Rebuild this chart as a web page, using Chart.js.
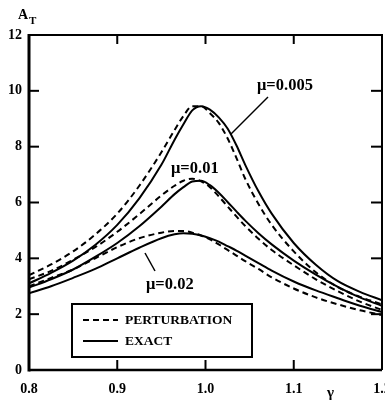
<!DOCTYPE html>
<html><head><meta charset="utf-8">
<script src="https://cdn.jsdelivr.net/npm/chart.js@4.4.1/dist/chart.umd.min.js"></script>
<style>html,body{margin:0;padding:0;background:#fff}#wrap{width:385px;height:400px;position:relative}</style>
</head><body><div id="wrap"><canvas id="c" width="385" height="400"></canvas></div>
<script>
// gamma grid (x values)
const gamma = [0.80,0.825,0.85,0.875,0.90,0.925,0.95,0.965,0.975,0.985,0.995,1.005,1.015,1.025,1.035,1.045,1.06,1.075,1.10,1.125,1.15,1.175,1.20];
// A_T values
const pert005  = [3.40,3.78,4.25,4.85,5.60,6.60,7.80,8.60,9.10,9.45,9.45,9.20,8.85,8.30,7.60,6.85,5.95,5.20,4.25,3.50,2.97,2.62,2.35];
const exact005 = [3.10,3.48,3.92,4.48,5.20,6.15,7.35,8.25,8.80,9.30,9.45,9.33,9.05,8.65,8.05,7.35,6.40,5.60,4.55,3.77,3.18,2.80,2.50];
const pert01   = [3.25,3.55,3.95,4.40,4.95,5.58,6.25,6.60,6.78,6.85,6.76,6.55,6.22,5.86,5.50,5.16,4.70,4.30,3.75,3.25,2.82,2.45,2.15];
const exact01  = [2.95,3.25,3.60,4.05,4.55,5.15,5.85,6.30,6.55,6.75,6.78,6.62,6.35,6.02,5.68,5.35,4.90,4.50,3.92,3.42,2.98,2.60,2.30];
const pert02   = [3.00,3.30,3.60,4.00,4.40,4.72,4.92,4.98,4.98,4.92,4.82,4.68,4.50,4.30,4.10,3.90,3.62,3.32,2.92,2.60,2.35,2.14,1.97];
const exact02  = [2.75,3.00,3.30,3.62,4.00,4.38,4.72,4.86,4.90,4.88,4.82,4.72,4.60,4.44,4.28,4.10,3.83,3.56,3.17,2.85,2.57,2.30,2.08];
const yTickValues = [0,2,4,6,8,10,12];
const xTickValues = [0.8,0.9,1.0,1.1,1.2];
const curveLabels = ['\u03bc=0.005','\u03bc=0.01','\u03bc=0.02'];
const legendLabels = ['PERTURBATION','EXACT'];
const yTitle = 'A';
const yTitleSub = 'T';
const xTitle = '\u03b3';

const FONT = '"Liberation Serif", "DejaVu Serif", serif';

function ds(arr, dashed){
  return {
    data: gamma.map((g,i)=>({x:g,y:arr[i]})),
    borderColor:'#000', borderWidth:2, borderDash: dashed ? [6,4] : [],
    pointRadius:0, fill:false, cubicInterpolationMode:'monotone'
  };
}

const decor = {
  id:'decor',
  afterDraw(chart){
    const ctx = chart.ctx;
    const xs = chart.scales.x, ys = chart.scales.y;
    const L = chart.chartArea.left, R = chart.chartArea.right, T = chart.chartArea.top, B = chart.chartArea.bottom;
    ctx.save();
    ctx.strokeStyle = '#000';
    ctx.lineCap = 'butt';
    // frame
    ctx.lineWidth = 3;
    ctx.beginPath(); ctx.moveTo(L, T-1); ctx.lineTo(L, B+1.5); ctx.stroke();
    ctx.lineWidth = 2.5;
    ctx.beginPath(); ctx.moveTo(L, B); ctx.lineTo(R, B); ctx.stroke();
    ctx.lineWidth = 2;
    ctx.beginPath(); ctx.moveTo(L, T); ctx.lineTo(R, T); ctx.lineTo(R, B); ctx.stroke();
    // inward ticks
    ctx.lineWidth = 2;
    yTickValues.forEach(v=>{
      if (v===0 || v===12) return;
      const y = ys.getPixelForValue(v);
      ctx.beginPath(); ctx.moveTo(L, y); ctx.lineTo(L+10, y); ctx.stroke();
      ctx.beginPath(); ctx.moveTo(R, y); ctx.lineTo(R-11, y); ctx.stroke();
    });
    xTickValues.forEach(v=>{
      if (v<=0.8 || v>=1.2) return;
      const x = xs.getPixelForValue(v);
      ctx.beginPath(); ctx.moveTo(x, B); ctx.lineTo(x, B-10); ctx.stroke();
      ctx.beginPath(); ctx.moveTo(x, T); ctx.lineTo(x, T+9); ctx.stroke();
    });
    // curve labels
    ctx.fillStyle = '#000';
    ctx.font = 'bold 16.5px ' + FONT;
    ctx.textBaseline = 'middle';
    ctx.textAlign = 'left';
    ctx.fillText(curveLabels[0], 257, 86);
    ctx.fillText(curveLabels[1], 171, 169);
    ctx.fillText(curveLabels[2], 146, 285);
    // pointer lines
    ctx.lineWidth = 1.5;
    ctx.beginPath(); ctx.moveTo(268, 97); ctx.lineTo(231, 134); ctx.stroke();
    ctx.beginPath(); ctx.moveTo(145, 253); ctx.lineTo(155, 271); ctx.stroke();
    // legend box
    ctx.lineWidth = 2;
    ctx.strokeRect(72, 304, 180, 53);
    ctx.setLineDash([6,4]);
    ctx.beginPath(); ctx.moveTo(83, 320); ctx.lineTo(118, 320); ctx.stroke();
    ctx.setLineDash([]);
    ctx.beginPath(); ctx.moveTo(83, 341); ctx.lineTo(118, 341); ctx.stroke();
    ctx.font = 'bold 13.5px ' + FONT;
    ctx.fillText(legendLabels[0], 125, 321);
    ctx.fillText(legendLabels[1], 125, 342);
    // axis titles
    ctx.font = 'bold 14px ' + FONT;
    ctx.fillText(yTitle, 18, 15);
    ctx.font = 'bold 11px ' + FONT;
    ctx.fillText(yTitleSub, 29, 21);
    ctx.font = 'bold 15px ' + FONT;
    ctx.fillText(xTitle, 327, 393);
    ctx.restore();
  }
};

new Chart(document.getElementById('c'), {
  type:'line',
  data:{ datasets:[ds(pert005,true),ds(exact005,false),ds(pert01,true),ds(exact01,false),ds(pert02,true),ds(exact02,false)] },
  options:{
    responsive:false, animation:false, devicePixelRatio:1,
    layout:{ padding:{ top:35, right:3, left:0, bottom:0 } },
    plugins:{ legend:{display:false}, tooltip:{enabled:false} },
    scales:{
      x:{
        type:'linear', min:0.8, max:1.2,
        afterBuildTicks(s){ s.ticks = xTickValues.map(v=>({value:v})); },
        afterFit(s){ s.height = 30; s.paddingLeft = 0; s.paddingRight = 0; },
        grid:{ display:false, drawTicks:false }, border:{ display:false },
        ticks:{ color:'#000', padding:11, maxRotation:0, autoSkip:false,
          font:{ family:FONT, size:14, weight:'bold' },
          callback:(v)=>Number(v).toFixed(1) }
      },
      y:{
        type:'linear', min:0, max:12,
        afterBuildTicks(s){ s.ticks = yTickValues.map(v=>({value:v})); },
        afterFit(s){ s.width = 29; s.paddingTop = 0; s.paddingBottom = 0; },
        grid:{ display:false, drawTicks:false }, border:{ display:false },
        ticks:{ color:'#000', padding:7, autoSkip:false,
          font:{ family:FONT, size:14, weight:'bold' },
          callback:(v)=>String(v) }
      }
    }
  },
  plugins:[decor]
});
</script></body></html>
